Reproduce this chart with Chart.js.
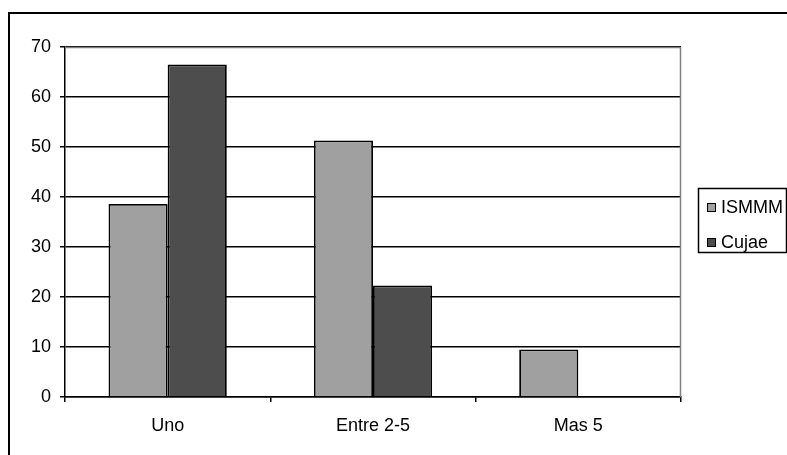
<!DOCTYPE html>
<html>
<head>
<meta charset="utf-8">
<script src="https://cdn.jsdelivr.net/npm/chart.js@4/dist/chart.umd.min.js"></script>
<style>
  html, body { margin: 0; padding: 0; background: #ffffff; }
  #wrap { width: 787px; height: 455px; position: relative; }
</style>
</head>
<body>
<div id="wrap"><canvas id="chart" width="787" height="455"></canvas></div>
<script>
// Categories and series values
const categories = ['Uno', 'Entre 2-5', 'Mas 5'];
const ismmmValues = [38.6, 51.3, 9.5];
const cujaeValues = [66.5, 22.3, 0];
const seriesNames = ['ISMMM', 'Cujae'];
const yTicks = [0, 10, 20, 30, 40, 50, 60, 70];

const FONT = '"Liberation Sans", Arial, sans-serif';
const FONT_SIZE = 18;

// Outer frame, plot frame and boxed legend
const decorations = {
  id: 'decorations',
  beforeDraw(chart) {
    const ctx = chart.ctx;
    ctx.save();
    ctx.fillStyle = '#ffffff';
    ctx.fillRect(0, 0, chart.width, chart.height);
    ctx.strokeStyle = '#000000';
    ctx.lineWidth = 2;
    ctx.strokeRect(9, 13, chart.width + 20, chart.height + 20);
    ctx.restore();
  },
  afterDatasetsDraw(chart) {
    const ctx = chart.ctx;
    const a = chart.chartArea;
    ctx.save();
    // plot frame (top and right edges)
    ctx.strokeStyle = '#808080';
    ctx.lineWidth = 1.5;
    ctx.beginPath();
    ctx.moveTo(a.left, a.top + 0.5);
    ctx.lineTo(a.right - 0.5, a.top + 0.5);
    ctx.lineTo(a.right - 0.5, a.bottom);
    ctx.stroke();

    // legend
    const lx = 698.5, ly = 188.5, lw = 88, lh = 64;
    ctx.strokeStyle = '#000000';
    ctx.lineWidth = 1.5;
    ctx.strokeRect(lx, ly, lw, lh);
    ctx.font = FONT_SIZE + 'px ' + FONT;
    ctx.textBaseline = 'middle';
    ctx.textAlign = 'left';
    chart.data.datasets.forEach((ds, i) => {
      const cy = 207 + i * 35;
      ctx.fillStyle = ds.backgroundColor;
      ctx.fillRect(707, cy - 4, 8, 8);
      ctx.strokeStyle = '#000000';
      ctx.lineWidth = 1;
      ctx.strokeRect(707.5, cy - 3.5, 8, 8);
      ctx.fillStyle = '#000000';
      ctx.fillText(ds.label, 721, cy + 1);
    });
    ctx.restore();
  }
};

new Chart(document.getElementById('chart'), {
  type: 'bar',
  data: {
    labels: categories,
    datasets: [
      {
        label: seriesNames[0],
        data: ismmmValues,
        backgroundColor: '#a0a0a0',
        borderColor: '#000000',
        borderWidth: 1.8,
        categoryPercentage: 0.576,
        barPercentage: 1.0
      },
      {
        label: seriesNames[1],
        data: cujaeValues,
        backgroundColor: '#4d4d4d',
        borderColor: '#000000',
        borderWidth: 1.8,
        categoryPercentage: 0.576,
        barPercentage: 1.0
      }
    ]
  },
  options: {
    responsive: false,
    animation: false,
    devicePixelRatio: 1,
    layout: { padding: { top: 47, right: 106, left: 0, bottom: 0 } },
    plugins: {
      legend: { display: false },
      tooltip: { enabled: false },
      title: { display: false }
    },
    scales: {
      x: {
        offset: true,
        grid: {
          display: true,
          offset: true,
          drawOnChartArea: false,
          drawTicks: true,
          tickLength: 5,
          color: '#000000',
          lineWidth: 1.5
        },
        border: { display: true, color: '#000000', width: 1.5 },
        ticks: {
          color: '#000000',
          font: { family: FONT, size: FONT_SIZE },
          padding: 13,
          maxRotation: 0
        },
        afterFit(scale) { scale.height = 58; }
      },
      y: {
        min: 0,
        max: 70,
        afterBuildTicks(scale) {
          scale.ticks = yTicks.map(v => ({ value: v }));
        },
        grid: {
          display: true,
          drawOnChartArea: true,
          drawTicks: true,
          tickLength: 5,
          color: '#000000',
          lineWidth: 1.5
        },
        border: { display: true, color: '#000000', width: 1.5 },
        ticks: {
          color: '#000000',
          font: { family: FONT, size: FONT_SIZE },
          padding: 9
        },
        afterFit(scale) { scale.width = 65; }
      }
    }
  },
  plugins: [decorations]
});
</script>
</body>
</html>
